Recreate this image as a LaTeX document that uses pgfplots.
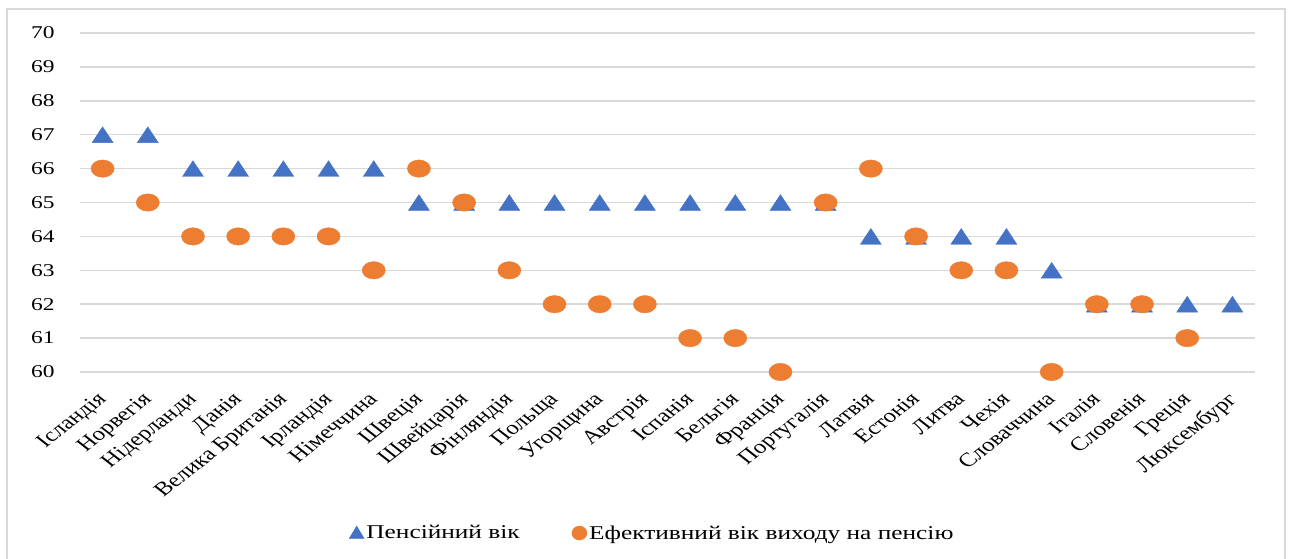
\documentclass[border=0pt]{standalone}
\usepackage{fontspec}
\setmainfont{Liberation Serif}
\usepackage{graphicx}
\usepackage{pgfplots}
\pgfplotsset{compat=1.18}
\definecolor{tri}{HTML}{4472C4}
\definecolor{circ}{HTML}{ED7D31}
\definecolor{gridc}{HTML}{D9D9D9}
\begin{document}
\begin{tikzpicture}
\begin{axis}[name=ax, at={(0,0)}, anchor=south west,
 scale only axis, width=1175pt, height=339pt,
 xmin=-0.5, xmax=25.5, ymin=60, ymax=70,
 ytick={60,...,70}, xtick={0,...,25},
 xticklabels={Ісландія,Норвегія,Нідерланди,Данія,Велика Британія,Ірландія,Німеччина,Швеція,Швейцарія,Фінляндія,Польща,Угорщина,Австрія,Іспанія,Бельгія,Франція,Португалія,Латвія,Естонія,Литва,Чехія,Словаччина,Італія,Словенія,Греція,Люксембург},
 axis line style={draw=none}, major tick length=0pt,
 ymajorgrids, grid style={gridc, line width=1.5pt},
 clip=false,
 /pgf/number format/assume math mode=true,
 yticklabel style={font=\fontsize{18}{21}\selectfont, xscale=1.3, anchor=east, xshift=-16pt},
 xticklabel style={font=\fontsize{19.4}{22}\selectfont, anchor=north east, xshift=-7pt, yshift=-19pt, xscale=1.28, rotate=45, inner sep=0pt},
 legend style={at={(0.487,-0.475)}, anchor=center, draw=none, legend columns=2, font=\fontsize{19.5}{22}\selectfont, /tikz/every even column/.append style={column sep=50pt}},
]
\addplot[only marks, mark=triangle*, color=tri, mark size=10.5pt, mark options={xscale=1.15, yshift=-2.6pt},
 legend image code/.code={\fill[tri] (-7.5pt,-5.5pt) -- (7.5pt,-5.5pt) -- (0pt,7pt) -- cycle;}]
 table {
x y
0 67
1 67
2 66
3 66
4 66
5 66
6 66
7 65
8 65
9 65
10 65
11 65
12 65
13 65
14 65
15 65
16 65
17 64
18 64
19 64
20 64
21 63
22 62
23 62
24 62
25 62
};
\addlegendentry{\scalebox{1.3}[1]{Пенсійний вік}}
\addplot[only marks, mark=*, color=circ, mark size=8.7pt, mark options={xscale=1.33},
 legend image code/.code={\fill[circ] (0pt,0pt) ellipse [x radius=7.5pt, y radius=7pt];}]
 table {
x y
0 66
1 65
2 64
3 64
4 64
5 64
6 63
7 66
8 65
9 63
10 62
11 62
12 62
13 61
14 61
15 60
16 65
17 66
18 64
19 63
20 63
21 60
22 62
23 62
24 61
};
\addlegendentry{\scalebox{1.3}[1]{Ефективний вік виходу на пенсію}}
\end{axis}
\draw[gridc, line width=2pt] (-73pt,-190pt) -- (-73pt,363pt) -- (1205pt,363pt) -- (1205pt,-190pt);
\pgfresetboundingbox
\path[use as bounding box] (-80pt,-186pt) rectangle (1209pt,372pt);
\end{tikzpicture}
\end{document}
